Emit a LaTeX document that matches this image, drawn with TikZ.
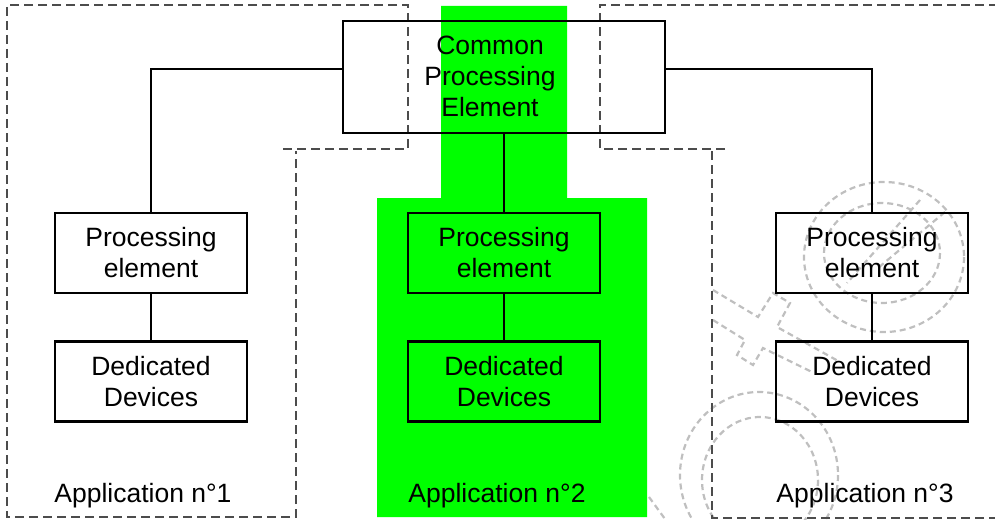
\documentclass[tikz,border=0pt]{standalone}
\usepackage{fontspec}
\setmainfont{Liberation Sans}
\newcommand\diagfont{\fontsize{26.5}{31}\selectfont}
\definecolor{appgreen}{HTML}{00FF00}
\begin{document}
\begin{tikzpicture}[x=1pt,y=-1pt,
  box/.style={draw=black, line width=2.6pt, minimum width=192pt, minimum height=80pt,
    inner sep=0pt, align=center, font=\diagfont},
  txt/.style={inner sep=0pt, align=center, font=\diagfont},
  wire/.style={draw=black, line width=2.6pt},
  region/.style={draw=black!70, line width=1.3pt, dash pattern=on 9pt off 5pt},
  wmark/.style={draw=black!25, line width=2.2pt, dash pattern=on 6pt off 4pt}]

\useasboundingbox (0,0) rectangle (995,519);

% shared area of application 2
\fill[appgreen] (441,6) -- (567,6) -- (567,198) -- (647,198) -- (647,517)
  -- (377,517) -- (377,198) -- (441,198) -- cycle;

% faint stamp in the background
\begin{scope}
  \clip (0,0) rectangle (995,519);
  \draw[wmark] (884,257) ellipse [x radius=80, y radius=75];
  \draw[wmark] (882,253) ellipse [x radius=58, y radius=50];
  \draw[wmark] (920,200) -- (847,283);
  \draw[wmark] (945,212) -- (878,268);
  \draw[wmark] (713,290) -- (758,317) -- (773,293) -- (790,303) -- (777,327) -- (840,362);
  \draw[wmark] (713,320) -- (745,340) -- (737,355) -- (753,365) -- (763,348) -- (812,372);
  \draw[wmark] (759,475) ellipse [x radius=79, y radius=83];
  \draw[wmark] (760,480) ellipse [x radius=58, y radius=63];
  \draw[wmark] (649,497) -- (665,519);
\end{scope}

% application areas 1 and 3
\draw[region] (283,149) -- (408,149) -- (408,5) -- (7,5) -- (7,517) -- (296,517) -- (296,151);
\draw[region] (725,149) -- (600,149) -- (600,5) -- (995,5);
\draw[region] (712,151) -- (712,518) -- (995,518);

% processing chain
\node[box, minimum width=322pt, minimum height=112pt] (cpe) at (504,77) {};
\node[txt] (cpelabel) at (490,76) {Common\\Processing\\Element};

\node[box] (pe1) at (151,253) {Processing\\element};
\node[box] (dd1) at (151,381.5) {Dedicated\\Devices};
\node[box] (pe2) at (504,253) {Processing\\element};
\node[box] (dd2) at (504,381.5) {Dedicated\\Devices};
\node[box] (pe3) at (872,253) {Processing\\element};
\node[box] (dd3) at (872,381.5) {Dedicated\\Devices};

\coordinate (bus) at (0,69);
\draw[wire] (cpe.west |- bus) -| (pe1.north);
\draw[wire] (cpe.east |- bus) -| (pe3.north);
\draw[wire] (cpe.south) -- (pe2.north);
\draw[wire] (pe1.south) -- (dd1.north);
\draw[wire] (pe2.south) -- (dd2.north);
\draw[wire] (pe3.south) -- (dd3.north);

% area captions
\node[txt, anchor=base] (app1) at (143,502) {Application n°1};
\node[txt, anchor=base] (app2) at (497,502) {Application n°2};
\node[txt, anchor=base] (app3) at (865,502) {Application n°3};
\end{tikzpicture}
\end{document}
